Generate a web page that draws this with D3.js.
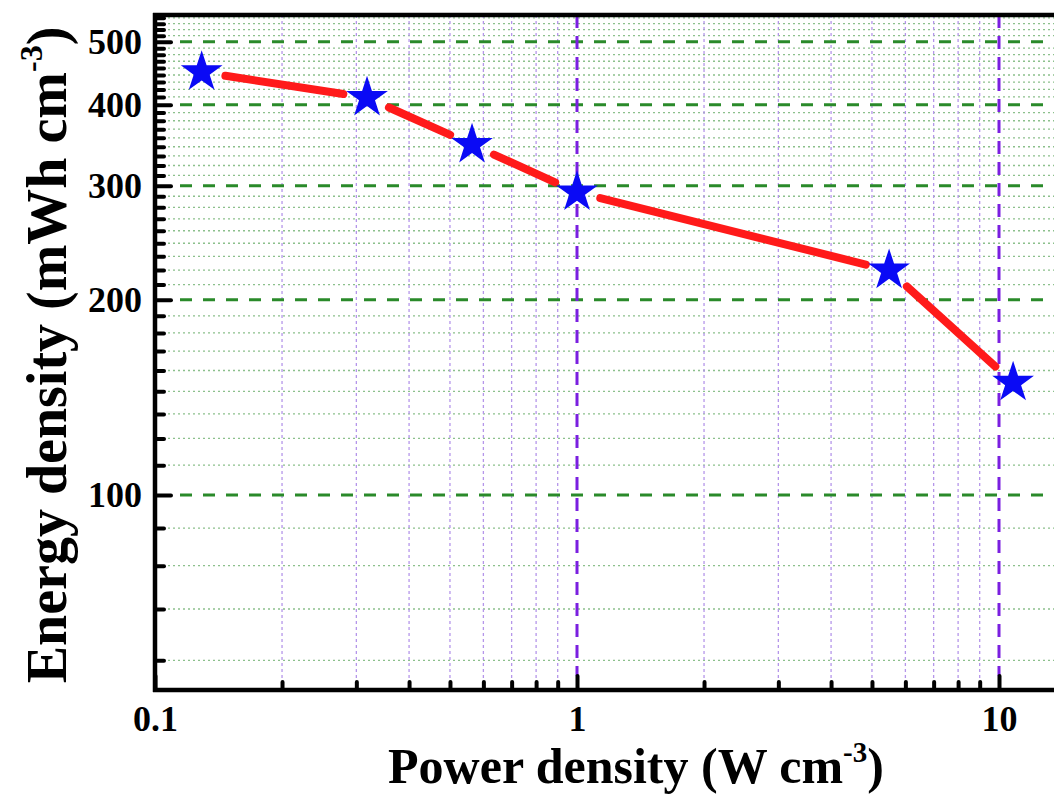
<!DOCTYPE html>
<html>
<head>
<meta charset="utf-8">
<script src="https://cdn.jsdelivr.net/npm/d3@7"></script>
<style>
  html, body { margin: 0; padding: 0; background: #fff; }
  svg { display: block; }
  text { font-family: "Liberation Serif", "Times New Roman", serif; font-weight: bold; fill: #000; }
</style>
</head>
<body>
<svg id="chart" width="1054" height="794"></svg>
<script>
// ---- data ----
const powerDensity  = [0.129, 0.318, 0.564, 1.0, 5.49, 10.8];   // W cm^-3
const energyDensity = [449, 410, 347, 293, 222, 149];           // mWh cm^-3

const xMajorTicks = [0.1, 1, 10];
const xTickLabels = ["0.1", "1", "10"];
const xMinorTicks = [0.2, 0.3, 0.4, 0.5, 0.6, 0.7, 0.8, 0.9, 2, 3, 4, 5, 6, 7, 8, 9];

const yMajorTicks = [100, 200, 300, 400, 500];
const yTickLabels = ["100", "200", "300", "400", "500"];

const xTitle = "Power density (W cm";
const yTitle = "Energy density (mWh cm";

(function () {
// ---- layout ----
const W = 1054, H = 794;
const plotLeft = 155, plotBottom = 690, plotTop = 15;
const decadeX = 422;

const x = d3.scaleLog().domain([0.1, 20]).range([plotLeft, plotLeft + decadeX * Math.log10(200)]);
const y = d3.scaleLog().domain([50, 550]).range([plotBottom, plotTop]);

// minor y ticks: 8 linear subdivisions in every 100 interval
const yMinorTicks = [];
for (let k = 0; k < 6; k++) {
  for (let i = 1; i <= 8; i++) {
    const v = k * 100 + i * 100 / 9;
    if (v > y.domain()[0] && v < y.domain()[1]) yMinorTicks.push(v);
  }
}

const svg = d3.select("#chart");
svg.append("defs").append("clipPath").attr("id", "clip")
  .append("rect").attr("x", plotLeft).attr("y", plotTop).attr("width", W - plotLeft).attr("height", plotBottom - plotTop);

const grid = svg.append("g").attr("clip-path", "url(#clip)");

// minor horizontal grid (green dotted)
grid.selectAll("line.hmin").data(yMinorTicks).join("line")
  .attr("x1", plotLeft + 8).attr("x2", W)
  .attr("y1", d => y(d)).attr("y2", d => y(d))
  .attr("stroke", "#8cc08c").attr("stroke-width", 1.3).attr("stroke-dasharray", "2,3");

// minor vertical grid (purple dotted)
grid.selectAll("line.vmin").data(xMinorTicks).join("line")
  .attr("x1", d => x(d)).attr("x2", d => x(d))
  .attr("y1", plotTop).attr("y2", plotBottom - 8)
  .attr("stroke", "#b596ea").attr("stroke-width", 1.3).attr("stroke-dasharray", "3,3");

// major horizontal grid (green dashed)
grid.selectAll("line.hmaj").data(yMajorTicks).join("line")
  .attr("x1", plotLeft + 16).attr("x2", W)
  .attr("y1", d => y(d)).attr("y2", d => y(d))
  .attr("stroke", "#2a8a2a").attr("stroke-width", 3).attr("stroke-dasharray", "12,11")
  .attr("stroke-dashoffset", 14);

// major vertical grid (purple dashed)
grid.selectAll("line.vmaj").data(xMajorTicks.filter(d => d > 0.1)).join("line")
  .attr("x1", d => x(d)).attr("x2", d => x(d))
  .attr("y1", plotTop).attr("y2", plotBottom - 14)
  .attr("stroke", "#7a1fe0").attr("stroke-width", 3).attr("stroke-dasharray", "13,8");

// ---- axes ----
const yAxisMajor = d3.axisLeft(y).tickValues(yMajorTicks)
  .tickFormat((d, i) => yTickLabels[i]).tickSizeInner(-16).tickSizeOuter(0).tickPadding(13);
const yAxisMinor = d3.axisLeft(y).tickValues(yMinorTicks)
  .tickFormat("").tickSizeInner(-9).tickSizeOuter(0);
const xAxisMajor = d3.axisBottom(x).tickValues(xMajorTicks)
  .tickFormat((d, i) => xTickLabels[i]).tickSizeInner(-14).tickSizeOuter(0).tickPadding(15);
const xAxisMinor = d3.axisBottom(x).tickValues(xMinorTicks)
  .tickFormat("").tickSizeInner(-8).tickSizeOuter(0);

function styleAxis(g) {
  g.select(".domain").remove();
  g.selectAll(".tick line").attr("stroke", "#000").attr("stroke-width", 4).attr("stroke-linecap", "round");
  g.selectAll(".tick text").style("font-size", "36px").style("font-family", "'Liberation Serif', serif").style("font-weight", "bold");
}

svg.append("g").attr("transform", `translate(${plotLeft},0)`).call(yAxisMinor).call(styleAxis);
svg.append("g").attr("transform", `translate(${plotLeft},0)`).call(yAxisMajor).call(styleAxis);
svg.append("g").attr("transform", `translate(0,${plotBottom})`).call(xAxisMinor).call(styleAxis);
svg.append("g").attr("transform", `translate(0,${plotBottom})`).call(xAxisMajor).call(styleAxis);

// frame lines
svg.append("line").attr("x1", plotLeft).attr("x2", plotLeft).attr("y1", plotTop - 2).attr("y2", plotBottom + 2)
  .attr("stroke", "#000").attr("stroke-width", 4.5);
svg.append("line").attr("x1", plotLeft - 2).attr("x2", W).attr("y1", plotBottom).attr("y2", plotBottom)
  .attr("stroke", "#000").attr("stroke-width", 4.5);
svg.append("line").attr("x1", plotLeft - 2).attr("x2", W).attr("y1", plotTop).attr("y2", plotTop)
  .attr("stroke", "#000").attr("stroke-width", 4.5);

// ---- data line with gaps around symbols ----
const pts = powerDensity.map((p, i) => [x(p), y(energyDensity[i])]);
const gap = 24;
const segs = [];
for (let i = 0; i < pts.length - 1; i++) {
  const [x1, y1] = pts[i], [x2, y2] = pts[i + 1];
  const len = Math.hypot(x2 - x1, y2 - y1);
  const ux = (x2 - x1) / len, uy = (y2 - y1) / len;
  segs.push([[x1 + ux * gap, y1 + uy * gap], [x2 - ux * gap, y2 - uy * gap]]);
}
svg.append("g").selectAll("path").data(segs).join("path")
  .attr("d", d => d3.line()(d))
  .attr("stroke", "#ff1a1a").attr("stroke-width", 8).attr("stroke-linecap", "round").attr("fill", "none");

// stars
const star = d3.symbol(d3.symbolStar, 540);
svg.append("g").selectAll("path").data(pts).join("path")
  .attr("transform", d => `translate(${d[0]},${d[1]})`)
  .attr("d", star)
  .attr("fill", "#0a0af5");

// ---- titles ----
const xt = svg.append("text").attr("x", 636).attr("y", 783).attr("text-anchor", "middle")
  .style("font-size", "50px");
xt.append("tspan").text(xTitle);
xt.append("tspan").attr("dy", -21).style("font-size", "29px").text("-3");
xt.append("tspan").attr("dy", 21).text(")");

const yt = svg.append("text").attr("transform", "translate(66,355) rotate(-90)")
  .attr("text-anchor", "middle").style("font-size", "56px");
yt.append("tspan").text(yTitle);
yt.append("tspan").attr("dy", -24).style("font-size", "32px").text("-3");
yt.append("tspan").attr("dy", 24).text(")");
})();
</script>
</body>
</html>
